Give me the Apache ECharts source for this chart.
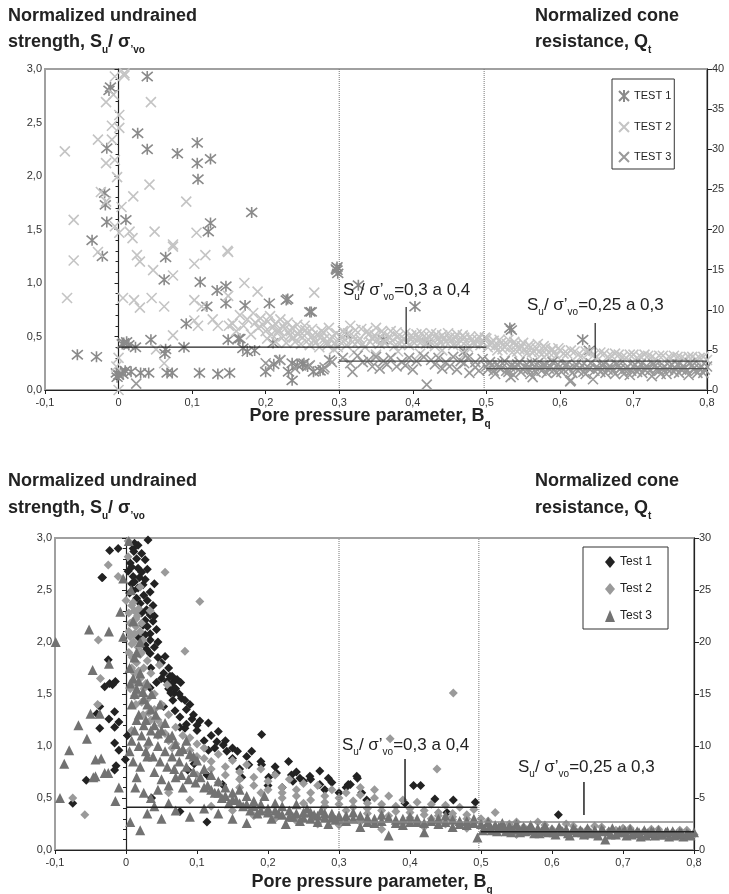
<!DOCTYPE html>
<html><head><meta charset="utf-8">
<script src="https://cdn.jsdelivr.net/npm/echarts@6/dist/echarts.min.js"></script>
<style>html,body{margin:0;padding:0;background:#fff}#c{width:729px;height:894px}</style>
</head><body><div id="c"></div>
<script>
// ---------- DATA (x = Bq, y = Su/σ'vo) ----------
const xTicks = [-0.1, 0.8, 0.1];
const leftTicks = [0, 3, 0.5];
const rightTopTicks = [0, 40, 5];
const rightBotTicks = [0, 30, 5];

const topTest1 = [[0.039,2.93],[-0.011,2.83],[-0.013,2.80],[0.026,2.40],[0.039,2.25],[-0.016,2.26],[0.08,2.21],[0.107,2.31],[0.107,2.12],[0.125,2.16],[0.108,1.97],[0.181,1.66],[-0.019,1.84],[-0.018,1.73],[0.010,1.59],[0.125,1.56],[0.122,1.48],[-0.016,1.57],[-0.036,1.40],[-0.022,1.25],[0.064,1.24],[0.062,1.03],[0.111,1.01],[0.134,0.93],[0.146,0.97],[0.146,0.81],[0.12,0.78],[0.172,0.79],[0.205,0.81],[0.23,0.85],[0.262,0.73],[0.297,1.15],[0.297,1.12],[0.298,1.09],[0.296,1.13],[0.092,0.62],[0.044,0.47],[0.165,0.48],[0.21,0.44],[0.007,0.44],[0.014,0.42],[0.023,0.40],[0.011,0.45],[0.005,0.43],[0.064,0.38],[0.089,0.40],[-0.056,0.33],[-0.030,0.31],[0.063,0.34],[0.169,0.39],[0.175,0.36],[-0.003,0.16],[0.0,0.14],[0.003,0.17],[0.006,0.15],[0.009,0.18],[-0.002,0.12],[0.017,0.17],[0.03,0.16],[0.041,0.16],[0.066,0.16],[0.073,0.16],[0.110,0.16],[0.135,0.15],[0.151,0.16],[0.2,0.17],[0.211,0.24],[0.231,0.17],[0.236,0.09],[0.25,0.24],[0.257,0.22],[0.265,0.17],[0.274,0.18],[0.326,0.98],[0.403,0.78],[0.534,0.56],[0.532,0.58],[0.631,0.47],[0.64,0.37],[0.31,0.52],[0.36,0.47],[0.42,0.44],[0.47,0.36],[0.149,0.47],[0.163,0.48],[0.228,0.84],[0.26,0.73],[0.185,0.37],[0.219,0.28],[0.236,0.25],[0.243,0.23],[0.252,0.25],[0.278,0.19],[0.287,0.28]];

const topTest2 = [[0.008,2.94],[-0.005,2.93],[0.008,2.96],[0.044,2.69],[-0.017,2.69],[-0.007,2.76],[0.001,2.57],[0.001,2.45],[-0.009,2.47],[-0.028,2.34],[-0.009,2.34],[-0.073,2.23],[-0.017,2.12],[-0.005,2.15],[-0.002,1.99],[0.042,1.92],[0.020,1.81],[-0.024,1.85],[0.092,1.76],[0.004,1.71],[-0.017,1.76],[-0.061,1.59],[0.049,1.48],[0.106,1.47],[-0.005,1.53],[0.001,1.47],[0.015,1.48],[0.019,1.42],[0.074,1.36],[0.149,1.29],[0.118,1.26],[-0.028,1.29],[-0.061,1.21],[0.029,1.20],[0.025,1.26],[0.047,1.12],[0.074,1.34],[0.074,1.07],[0.103,1.18],[0.148,1.30],[0.171,1.00],[0.189,0.92],[0.266,0.91],[-0.070,0.86],[0.006,0.86],[0.021,0.84],[0.029,0.77],[0.045,0.86],[0.062,0.78],[0.103,0.84],[0.113,0.78],[0.149,0.88],[0.128,0.66],[0.103,0.65],[0.074,0.51],[0.051,0.38],[0.062,0.25],[0.108,0.60],[0.135,0.60],[0.15,0.60],[0.0,0.0],[0.0,0.30],[-0.003,0.22],
[0.155,0.62],[0.16,0.55],[0.165,0.70],[0.17,0.60],[0.175,0.66],[0.18,0.52],[0.183,0.72],[0.186,0.63],[0.19,0.58],[0.193,0.67],[0.196,0.61],[0.2,0.55],[0.203,0.64],[0.206,0.69],[0.21,0.59],[0.213,0.62],[0.216,0.53],[0.22,0.66],[0.223,0.60],[0.226,0.57],[0.23,0.63],[0.233,0.51],[0.236,0.58],[0.24,0.45],[0.243,0.61],[0.246,0.55],[0.25,0.49],[0.253,0.60],[0.256,0.53],[0.26,0.42],[0.263,0.57],[0.266,0.47],[0.27,0.52],[0.273,0.40],[0.276,0.55],[0.28,0.48],[0.283,0.44],[0.286,0.58],[0.29,0.50],[0.293,0.38],[0.296,0.53],[0.30,0.46],
[0.202,0.48],[0.208,0.52],[0.214,0.45],[0.218,0.56],[0.224,0.50],[0.228,0.44],[0.234,0.55],[0.238,0.49],[0.244,0.52],[0.248,0.43],[0.254,0.56],[0.258,0.47],[0.264,0.51],[0.268,0.44],[0.274,0.49],[0.278,0.54],[0.284,0.42],[0.288,0.47],[0.294,0.44],[0.298,0.40],
[0.305,0.55],[0.31,0.42],[0.315,0.60],[0.32,0.50],[0.325,0.45],[0.33,0.57],[0.335,0.40],[0.34,0.52],[0.345,0.48],[0.35,0.58],[0.355,0.43],[0.36,0.53],[0.365,0.47],[0.37,0.55],[0.375,0.41],[0.38,0.50],[0.385,0.45],[0.39,0.53],[0.395,0.42],[0.40,0.49],[0.405,0.52],[0.41,0.44],[0.415,0.50],[0.42,0.47],[0.425,0.53],[0.43,0.41],[0.435,0.48],[0.44,0.51],[0.445,0.45],[0.45,0.49],[0.455,0.42],[0.46,0.52],[0.465,0.46],[0.47,0.49],[0.475,0.40],[0.48,0.47],[0.485,0.43],[0.49,0.50],[0.495,0.45],[0.32,0.35],[0.35,0.33],[0.38,0.36],[0.41,0.34],[0.44,0.37],[0.47,0.33],
[0.302,0.50],[0.308,0.47],[0.312,0.53],[0.318,0.45],[0.322,0.56],[0.328,0.48],[0.332,0.43],[0.338,0.55],[0.342,0.45],[0.348,0.51],[0.352,0.47],[0.358,0.55],[0.362,0.44],[0.368,0.50],[0.372,0.46],[0.378,0.54],[0.382,0.43],[0.388,0.48],[0.392,0.45],[0.398,0.51],[0.402,0.44],[0.408,0.48],[0.412,0.53],[0.418,0.43],[0.422,0.50],[0.428,0.46],[0.432,0.52],[0.438,0.44],[0.442,0.48],[0.448,0.53],[0.452,0.46],[0.458,0.49],[0.462,0.43],[0.468,0.51],[0.472,0.45],[0.478,0.50],[0.482,0.44],[0.488,0.47],[0.492,0.42],[0.498,0.49],
[0.50,0.48],[0.505,0.42],[0.51,0.46],[0.515,0.37],[0.52,0.44],[0.525,0.40],[0.53,0.47],[0.535,0.35],[0.54,0.42],[0.545,0.38],[0.55,0.44],[0.555,0.34],[0.56,0.40],[0.565,0.36],[0.57,0.43],[0.575,0.33],[0.58,0.39],[0.585,0.35],[0.59,0.38],[0.595,0.32],[0.60,0.37],[0.61,0.34],[0.62,0.36],[0.63,0.32],[0.64,0.35],[0.65,0.31],[0.66,0.34],[0.67,0.32],[0.68,0.33],[0.69,0.30],[0.70,0.33],[0.71,0.31],[0.72,0.32],[0.73,0.29],[0.74,0.32],[0.75,0.30],[0.76,0.31],[0.77,0.29],[0.78,0.31],[0.79,0.30],[0.80,0.28],
[0.502,0.40],[0.507,0.45],[0.512,0.41],[0.518,0.47],[0.522,0.38],[0.528,0.43],[0.532,0.40],[0.538,0.45],[0.542,0.36],[0.548,0.41],[0.552,0.38],[0.558,0.42],[0.562,0.35],[0.568,0.39],[0.572,0.36],[0.578,0.41],[0.582,0.33],[0.588,0.37],[0.592,0.35],[0.598,0.39],[0.605,0.34],[0.615,0.37],[0.625,0.33],[0.635,0.36],[0.645,0.32],[0.655,0.35],[0.665,0.31],[0.675,0.34],[0.685,0.31],[0.695,0.33],[0.705,0.30],[0.715,0.33],[0.725,0.31],[0.735,0.32],[0.745,0.29],[0.755,0.32],[0.765,0.30],[0.775,0.31],[0.785,0.29],[0.795,0.31]];

const topTest3 = [[0.2,0.25],[0.205,0.22],[0.22,0.28],[0.24,0.20],[0.26,0.23],[0.28,0.21],[0.29,0.26],[0.318,0.17],[0.332,0.26],[0.345,0.22],[0.355,0.20],[0.365,0.24],[0.378,0.22],[0.39,0.23],[0.40,0.19],[0.419,0.05],[0.43,0.24],[0.44,0.20],[0.45,0.22],[0.46,0.19],[0.47,0.25],[0.477,0.16],[0.485,0.21],[0.49,0.18],[0.024,0.06],
[0.305,0.30],[0.315,0.25],[0.325,0.32],[0.34,0.28],[0.35,0.31],[0.36,0.27],[0.37,0.30],[0.385,0.26],[0.395,0.30],[0.405,0.27],[0.415,0.31],[0.425,0.28],[0.435,0.30],[0.445,0.26],[0.455,0.31],[0.465,0.27],[0.475,0.30],[0.485,0.26],[0.495,0.29],
[0.50,0.22],[0.505,0.26],[0.51,0.18],[0.515,0.24],[0.52,0.20],[0.525,0.27],[0.53,0.17],[0.535,0.23],[0.54,0.21],[0.545,0.26],[0.55,0.19],[0.555,0.24],[0.56,0.15],[0.565,0.22],[0.57,0.25],[0.575,0.18],[0.58,0.23],[0.585,0.20],[0.59,0.26],[0.595,0.16],[0.60,0.22],[0.605,0.19],[0.61,0.24],[0.615,0.09],[0.62,0.21],[0.625,0.18],[0.63,0.23],[0.635,0.15],[0.64,0.20],[0.645,0.10],[0.65,0.22],[0.655,0.17],[0.66,0.24],[0.665,0.19],[0.67,0.21],[0.675,0.15],[0.68,0.23],[0.685,0.18],[0.69,0.20],[0.695,0.14],[0.70,0.22],[0.705,0.17],[0.71,0.24],[0.715,0.19],[0.72,0.21],[0.725,0.13],[0.73,0.23],[0.735,0.18],[0.74,0.20],[0.745,0.15],[0.75,0.22],[0.755,0.17],[0.76,0.24],[0.765,0.19],[0.77,0.21],[0.775,0.14],[0.78,0.23],[0.785,0.18],[0.79,0.20],[0.795,0.16],[0.80,0.22],[0.533,0.12],[0.563,0.12],[0.614,0.08],
[0.502,0.19],[0.507,0.23],[0.512,0.15],[0.517,0.21],[0.522,0.25],[0.527,0.18],[0.532,0.22],[0.537,0.14],[0.542,0.24],[0.547,0.17],[0.552,0.22],[0.557,0.20],[0.562,0.25],[0.567,0.17],[0.572,0.21],[0.577,0.23],[0.582,0.16],[0.587,0.22],[0.592,0.19],[0.597,0.24],[0.602,0.17],[0.607,0.23],[0.612,0.20],[0.617,0.16],[0.622,0.24],[0.627,0.20],[0.632,0.17],[0.637,0.22],[0.642,0.25],[0.647,0.18],[0.652,0.20],[0.657,0.23],[0.662,0.16],[0.667,0.22],[0.672,0.18],[0.677,0.24],[0.682,0.20],[0.687,0.15],[0.692,0.22],[0.697,0.18],[0.702,0.24],[0.707,0.20],[0.712,0.16],[0.717,0.22],[0.722,0.18],[0.727,0.24],[0.732,0.20],[0.737,0.15],[0.742,0.22],[0.747,0.19],[0.752,0.24],[0.757,0.20],[0.762,0.16],[0.767,0.22],[0.772,0.18],[0.777,0.25],[0.782,0.20],[0.787,0.16],[0.792,0.22],[0.797,0.19]];

const botTest1 = [[0.031,2.98],[0.017,2.93],[0.010,2.90],[-0.023,2.88],[-0.011,2.90],[0.011,2.87],[0.015,2.80],[0.027,2.79],[0.006,2.76],[0.017,2.71],[0.022,2.67],[-0.034,2.62],[0.003,2.68],[0.010,2.63],[0.027,2.60],[0.040,2.56],[0.008,2.56],[0.017,2.52],[0.010,2.49],[0.034,2.48],[0.005,2.47],[0.020,2.37],[0.029,2.31],[0.034,2.26],[0.027,2.21],[0.024,2.16],[0.043,2.12],[0.034,2.08],[0.027,2.07],[0.034,2.02],[0.017,2.05],[0.027,1.97],[0.029,1.93],[0.034,1.89],[0.055,1.86],[0.053,1.70],[0.062,1.67],[0.066,1.61],[0.058,1.62],[0.043,1.61],[-0.015,1.62],[-0.023,1.60],[0.068,1.51],[0.034,1.56],[0.065,1.67],[0.072,1.64],[0.077,1.61],[0.068,1.56],[0.063,1.51],[0.078,1.46],[0.083,1.44],[0.066,1.44],[0.053,1.38],[0.069,1.34],[0.076,1.28],[0.085,1.21],[0.083,1.17],[0.076,1.18],[0.093,1.26],[0.104,1.24],[0.116,1.22],[0.130,1.14],[0.128,1.04],[0.116,0.96],[0.125,0.98],[0.137,1.01],[0.142,0.95],[0.157,0.95],[0.177,0.95],[0.191,1.11],[0.173,0.82],[0.191,0.82],[0.212,0.74],[0.229,0.85],[0.233,0.72],[0.235,0.66],[0.245,0.69],[0.259,0.71],[0.273,0.76],[0.285,0.69],[0.313,0.63],[0.325,0.71],[0.114,0.27],[0.076,0.37],[0.036,0.50],[-0.016,1.33],[-0.037,1.38],[-0.016,1.18],[-0.024,1.26],[-0.037,1.17],[-0.010,1.23],[-0.041,1.31],[-0.019,1.59],[-0.030,1.57],[-0.025,1.83],[-0.033,2.62],[-0.014,0.81],[-0.016,0.77],[-0.056,0.67],[-0.075,0.45],[-0.001,0.87],[-0.010,0.96],[-0.016,1.03],[0.002,1.10],[0.136,0.63],[0.163,0.70],[0.201,0.70],[0.25,0.66],[0.273,0.63],[0.114,0.72],[0.096,0.83],[0.087,0.77],[0.326,0.69],[0.316,0.63],[0.332,0.55],[0.339,0.48],[0.393,0.45],[0.405,0.62],[0.415,0.62],[0.435,0.49],[0.461,0.48],[0.492,0.46],[0.609,0.34],[0.452,0.36],[0.02,2.3],[0.025,2.45],[0.038,2.2],[0.045,2.0],[0.05,1.8],[0.06,1.75],[0.07,1.55],[0.09,1.4],[0.1,1.15],[0.11,1.05],[0.15,0.88],[0.16,0.78],[0.2,0.62],[0.22,0.6],[0.28,0.58],[0.3,0.55],
[0.012,2.95],[0.022,2.85],[0.008,2.72],[0.019,2.62],[0.03,2.70],[0.012,2.58],[0.024,2.55],[0.015,2.42],[0.03,2.40],[0.022,2.28],[0.038,2.35],[0.03,2.15],[0.04,2.25],[0.022,1.98],[0.04,1.95],[0.045,1.85],[0.035,1.75],[0.05,1.65],[0.06,1.55],[0.075,1.50],[0.085,1.35],[0.095,1.30],[0.1,1.20],[0.12,1.10],[0.14,1.05],[0.15,0.98],[0.17,0.9],[0.19,0.85],[0.21,0.8],[0.24,0.75],[0.26,0.68],[0.29,0.65],[0.31,0.6]];

const botTest2 = [[0.003,2.97],[-0.025,2.74],[-0.011,2.63],[0.003,2.82],[0.055,2.67],[0.104,2.39],[0.083,1.91],[0.02,2.53],[0.034,2.30],[-0.039,2.02],[-0.036,1.65],[0.047,1.78],[0.058,1.59],[-0.058,0.34],[-0.075,0.50],[-0.040,1.40],[0.0,2.40],
[0.008,2.35],[0.012,2.30],[0.016,2.25],[0.01,2.2],[0.014,2.15],[0.02,2.1],[0.006,2.05],[0.011,2.0],[0.017,1.95],[0.022,1.9],[0.009,1.85],[0.015,1.8],[0.025,1.75],[0.012,1.7],[0.02,1.65],[0.028,1.6],[0.006,1.55],[0.018,1.5],[0.03,1.45],[0.014,1.40],[0.04,1.35],[0.024,1.30],[0.035,1.25],[0.05,1.20],[0.008,1.15],[0.045,1.10],[0.06,1.05],[0.03,1.0],
[0.004,2.28],[0.01,2.38],[0.018,2.32],[0.006,2.18],[0.014,2.22],[0.022,2.18],[0.004,2.1],[0.012,2.08],[0.024,2.02],[0.008,1.98],[0.02,1.88],[0.004,1.9],[0.012,1.82],[0.03,1.82],[0.008,1.75],[0.018,1.72],[0.035,1.7],[0.01,1.62],[0.025,1.55],[0.04,1.5],[0.012,1.48],[0.022,1.42],[0.05,1.4],[0.032,1.32],[0.06,1.3],[0.045,1.25],[0.07,1.18],[0.055,1.12],[0.08,1.1],[0.065,0.98],[0.09,0.96],[0.1,1.02],[0.11,0.88],[0.12,0.78],[0.14,0.72],[0.16,0.68],[0.18,0.62],[0.2,0.58],[0.22,0.55],[0.24,0.52],[0.26,0.48],[0.28,0.46],[0.3,0.44],[0.32,0.41],[0.34,0.40],[0.36,0.38],[0.38,0.37],[0.4,0.36],[0.42,0.34],[0.44,0.33],[0.46,0.32],[0.48,0.3],
[0.07,1.02],[0.08,0.95],[0.09,1.08],[0.1,0.9],[0.11,0.98],[0.12,0.85],[0.13,0.92],[0.14,0.80],[0.15,0.86],[0.16,0.75],[0.17,0.82],[0.18,0.70],[0.19,0.78],[0.2,0.66],[0.21,0.72],[0.22,0.6],[0.23,0.68],[0.24,0.58],[0.25,0.64],[0.26,0.55],[0.27,0.62],[0.28,0.52],[0.29,0.58],[0.30,0.50],[0.31,0.55],[0.32,0.47],[0.33,0.53],[0.34,0.45],[0.35,0.5],[0.36,0.44],[0.37,0.52],[0.38,0.42],[0.39,0.48],[0.40,0.40],[0.41,0.46],[0.42,0.38],[0.43,0.44],[0.44,0.36],[0.45,0.43],[0.46,0.35],[0.47,0.41],[0.48,0.34],[0.49,0.39],
[0.06,0.55],[0.09,0.48],[0.12,0.42],[0.15,0.38],[0.18,0.33],[0.21,0.30],[0.24,0.28],[0.27,0.25],[0.30,0.24],[0.33,0.27],[0.36,0.2],[0.39,0.26],[0.42,0.22],[0.45,0.25],[0.48,0.21],[0.1,0.72],[0.13,0.65],[0.16,0.6],[0.19,0.55],[0.22,0.5],[0.25,0.45],[0.28,0.42],[0.31,0.38],[0.34,0.35],[0.37,0.33],[0.40,0.31],[0.43,0.3],[0.46,0.29],
[0.372,1.07],[0.438,0.78],[0.461,1.51],[0.33,0.6],[0.35,0.58],
[0.5,0.3],[0.52,0.36],[0.54,0.25],[0.56,0.22],[0.58,0.27],[0.6,0.2],[0.62,0.25],[0.64,0.19],[0.66,0.23],[0.68,0.18],[0.70,0.21],[0.72,0.17],[0.74,0.2],[0.76,0.16],[0.78,0.19],[0.8,0.15],[0.55,0.15],[0.65,0.14],[0.75,0.14],
[0.51,0.28],[0.53,0.24],[0.55,0.27],[0.57,0.21],[0.59,0.24],[0.61,0.19],[0.63,0.23],[0.65,0.2],[0.67,0.22],[0.69,0.19],[0.71,0.21],[0.73,0.18],[0.75,0.2],[0.77,0.17],[0.79,0.19]];

const botTest3 = [[-0.099,2.00],[-0.093,0.50],[-0.087,0.83],[-0.080,0.96],[-0.067,1.20],[-0.055,1.07],[-0.052,2.12],[-0.008,2.29],[-0.024,2.10],[-0.024,1.79],[-0.047,1.73],[-0.004,2.05],[-0.004,2.61],[0.004,2.97],[-0.043,0.87],[-0.05,1.31],[-0.037,1.31],[-0.025,0.74],[-0.043,0.71],[-0.01,0.60],[0.006,0.27],[0.02,0.19],[-0.015,0.47],[0.013,0.60],[-0.046,0.70],[-0.030,0.74],[-0.035,0.88],
[0.005,1.75],[0.01,1.65],[0.015,1.55],[0.02,1.70],[0.025,1.45],[0.03,1.60],[0.035,1.35],[0.008,1.40],[0.018,1.30],[0.028,1.25],[0.04,1.20],[0.012,1.15],[0.022,1.10],[0.032,1.05],[0.045,1.00],[0.05,1.15],[0.055,0.95],[0.06,1.08],[0.065,0.90],[0.07,1.02],[0.075,0.85],[0.08,0.97],[0.085,0.80],[0.09,0.92],[0.095,0.75],[0.1,0.86],[0.005,0.95],[0.01,0.85],[0.02,0.80],[0.03,0.9],[0.04,0.75],[0.05,0.68],[0.06,0.62],[0.07,0.7],[0.08,0.6],[0.015,0.7],[0.025,0.55],[0.035,0.5],[0.045,0.58],[0.01,2.2],[0.015,1.9],[0.02,2.0],[0.007,2.5],[0.012,1.85],
[0.006,1.6],[0.012,1.5],[0.018,1.62],[0.024,1.52],[0.03,1.4],[0.036,1.5],[0.042,1.3],[0.048,1.4],[0.015,1.25],[0.025,1.2],[0.035,1.15],[0.045,1.12],[0.055,1.22],[0.065,1.1],[0.075,0.95],[0.085,1.05],[0.095,0.9],[0.008,1.05],[0.018,1.0],[0.028,0.95],[0.038,0.9],[0.048,0.85],[0.058,0.8],[0.068,0.78],[0.078,0.72],[0.088,0.68],[0.098,0.65],[0.11,0.6],[0.12,0.58],[0.13,0.55],[0.14,0.52],[0.15,0.48],[0.16,0.45],[0.17,0.44],[0.18,0.42],[0.19,0.38],[0.2,0.36],[0.21,0.38],[0.22,0.34],[0.23,0.32],[0.24,0.35],[0.25,0.31],[0.26,0.36],[0.27,0.33],[0.28,0.35],[0.29,0.31],[0.3,0.3],[0.31,0.33],[0.32,0.3],[0.33,0.33],[0.34,0.27],[0.35,0.3],[0.36,0.28],[0.37,0.31],[0.38,0.26],[0.39,0.3],[0.40,0.27],[0.41,0.3],[0.42,0.26],[0.43,0.28],[0.44,0.3],[0.45,0.27],[0.46,0.29],[0.47,0.25],[0.48,0.28],[0.49,0.26],
[0.105,0.7],[0.11,0.78],[0.115,0.62],[0.12,0.72],[0.125,0.55],[0.13,0.66],[0.135,0.5],[0.14,0.6],[0.145,0.45],[0.15,0.55],[0.155,0.48],[0.16,0.58],[0.165,0.42],[0.17,0.52],[0.175,0.38],[0.18,0.47],[0.185,0.35],[0.19,0.44],[0.195,0.52],[0.2,0.40],[0.205,0.30],[0.21,0.45],[0.215,0.35],[0.22,0.42],[0.225,0.25],[0.23,0.38],[0.235,0.32],[0.24,0.44],[0.245,0.28],[0.25,0.36],[0.255,0.40],[0.26,0.30],[0.265,0.34],[0.27,0.27],[0.275,0.38],[0.28,0.31],[0.285,0.25],[0.29,0.35],[0.295,0.29],[0.3,0.33],[0.31,0.28],[0.32,0.36],[0.33,0.22],[0.34,0.31],[0.35,0.26],[0.36,0.34],[0.37,0.14],[0.38,0.29],[0.39,0.24],[0.40,0.32],[0.41,0.27],[0.42,0.17],[0.43,0.30],[0.44,0.25],[0.45,0.33],[0.46,0.22],[0.47,0.28],[0.48,0.24],[0.49,0.30],[0.495,0.12],
[0.03,0.35],[0.05,0.3],[0.07,0.38],[0.09,0.32],[0.11,0.4],[0.13,0.35],[0.15,0.3],[0.17,0.26],[0.04,0.42],[0.06,0.45],
[0.50,0.25],[0.505,0.21],[0.51,0.27],[0.515,0.19],[0.52,0.24],[0.525,0.22],[0.53,0.26],[0.535,0.18],[0.54,0.23],[0.545,0.20],[0.55,0.25],[0.555,0.17],[0.56,0.22],[0.565,0.19],[0.57,0.24],[0.575,0.16],[0.58,0.21],[0.585,0.18],[0.59,0.23],[0.595,0.17],[0.60,0.20],[0.605,0.15],[0.61,0.22],[0.615,0.18],[0.62,0.20],[0.625,0.14],[0.63,0.21],[0.635,0.17],[0.64,0.19],[0.645,0.15],[0.65,0.21],[0.655,0.16],[0.66,0.19],[0.665,0.14],[0.67,0.20],[0.675,0.10],[0.68,0.18],[0.685,0.21],[0.69,0.15],[0.695,0.19],[0.70,0.17],[0.705,0.14],[0.71,0.20],[0.715,0.16],[0.72,0.18],[0.725,0.13],[0.73,0.19],[0.735,0.16],[0.74,0.18],[0.745,0.14],[0.75,0.19],[0.755,0.15],[0.76,0.17],[0.765,0.13],[0.77,0.18],[0.775,0.15],[0.78,0.17],[0.785,0.13],[0.79,0.16],[0.795,0.14],[0.80,0.17],
[0.5025,0.19],[0.5125,0.23],[0.5225,0.18],[0.5325,0.21],[0.5425,0.17],[0.5525,0.21],[0.5625,0.18],[0.5725,0.2],[0.5825,0.16],[0.5925,0.2],[0.6025,0.17],[0.6125,0.19],[0.6225,0.16],[0.6325,0.19],[0.6425,0.17],[0.6525,0.18],[0.6625,0.16],[0.6725,0.18],[0.6825,0.15],[0.6925,0.17],[0.7025,0.19],[0.7125,0.15],[0.7225,0.17],[0.7325,0.14],[0.7425,0.17],[0.7525,0.15],[0.7625,0.18],[0.7725,0.14],[0.7825,0.16],[0.7925,0.15]];

// reference lines (x,y pairs)
const topLevelLines = [[[0,0.40],[0.5,0.40]],[[0.3,0.27],[0.8,0.27]],[[0.5,0.20],[0.8,0.20]]];
const topPointerLines = [[[0.391,0.43],[0.391,0.776]],[[0.648,0.30],[0.648,0.626]]];
const botLevelLines = [[[0,0.41],[0.495,0.41]],[[0.3,0.27],[0.8,0.27]],[[0.5,0.175],[0.8,0.175]]];
const botPointerLines = [[[0.393,0.46],[0.393,0.875]],[[0.645,0.337],[0.645,0.654]]];
const zoneBounds = [0.3, 0.497];

const topNames = ['TEST 1','TEST 2','TEST 3'];
const botNames = ['Test 1','Test 2','Test 3'];

// ---------- CHART ----------
const FF = '"Liberation Sans", Arial, sans-serif';
const STAR = 'path://M0,0L10,10M10,0L0,10M5,-1L5,11';
const CROSS = 'path://M0,0L10,10M10,0L0,10';
const fmt = v => Math.abs(v) < 1e-9 ? '0' : v.toFixed(1).replace('.', ',');

function xAx(gi){
  return {gridIndex: gi, type:'value', min:xTicks[0], max:xTicks[1], interval:xTicks[2],
    axisLine:{show:true,onZero:false,lineStyle:{color:'#222',width:1.2}},
    axisTick:{show:true,length:4,lineStyle:{color:'#222'}},
    axisLabel:{formatter:fmt,fontSize:11,color:'#333',fontFamily:FF,margin:7},
    splitLine:{show:false}};
}
function yLeft(gi){
  return {gridIndex: gi, type:'value', min:leftTicks[0], max:leftTicks[1], interval:leftTicks[2],
    axisLine:{show:true,onZero:true,lineStyle:{color:'#222',width:1.2}},
    axisTick:{show:true,length:4,lineStyle:{color:'#222'}},
    minorTick:{show:true,splitNumber:5,length:3,lineStyle:{color:'#222'}},
    axisLabel:{formatter:v=>v.toFixed(1).replace('.',','),fontSize:11,color:'#333',fontFamily:FF,margin:3},
    splitLine:{show:false}};
}
function yRight(gi, t){
  return {gridIndex: gi, type:'value', position:'right', min:t[0], max:t[1], interval:t[2],
    axisLine:{show:true,onZero:false,lineStyle:{color:'#222',width:1.2}},
    axisTick:{show:true,length:5,lineStyle:{color:'#222'}},
    axisLabel:{fontSize:11,color:'#333',fontFamily:FF,margin:5},
    splitLine:{show:false}};
}
function scat(name, data, xi, yi, symbol, size, color, stroke){
  const s = {name, type:'scatter', data, xAxisIndex:xi, yAxisIndex:yi, symbol, symbolSize:size, animation:false, large:false};
  if (stroke) s.itemStyle = {color:'rgba(0,0,0,0)', borderColor:color, borderWidth:1.6, opacity:1};
  else s.itemStyle = {color, opacity:1};
  return s;
}
function seg(data, xi, yi, color, width, type){
  return {type:'line', data, xAxisIndex:xi, yAxisIndex:yi, symbol:'none', silent:true, animation:false, z:5,
    lineStyle:{color, width, type: type||'solid'}};
}

const series = [
  scat('TEST 1', topTest1, 0, 0, STAR, 11, '#8a8a8a', true),
  scat('TEST 2', topTest2, 0, 0, CROSS, 10, '#c4c4c4', true),
  scat('TEST 3', topTest3, 0, 0, CROSS, 10, '#999999', true),
  scat('Test 1', botTest1, 1, 2, 'diamond', 9, '#222222', false),
  scat('Test 2', botTest2, 1, 2, 'diamond', 9, '#9a9a9a', false),
  scat('Test 3', botTest3, 1, 2, 'triangle', 10, '#727272', false),
];
zoneBounds.forEach(b => {
  series.push(seg([[b,leftTicks[0]],[b,leftTicks[1]]],0,0,'#777',1,'dotted'));
  series.push(seg([[b,leftTicks[0]],[b,leftTicks[1]]],1,2,'#777',1,'dotted'));
});
const lvlCol = ['#222','#444','#555'];
topLevelLines.forEach((d,i)=>series.push(seg(d,0,0,lvlCol[i],1.2)));
topPointerLines.forEach(d=>series.push(seg(d,0,0,'#222',1.2)));
const lvlColB = ['#222','#888','#222'];
botLevelLines.forEach((d,i)=>series.push(seg(d,1,2,lvlColB[i],1.5)));
botPointerLines.forEach(d=>series.push(seg(d,1,2,'#222',1.5)));

const richT = {
  b:{fontFamily:FF,fontWeight:'bold',fontSize:18,lineHeight:22,verticalAlign:'top',fill:'#222'},
  s:{fontFamily:FF,fontWeight:'bold',fontSize:10,lineHeight:12,verticalAlign:'bottom',fill:'#222'}
};
const richA = {
  n:{fontFamily:FF,fontSize:17,lineHeight:20,verticalAlign:'top',fill:'#222'},
  s:{fontFamily:FF,fontSize:10,lineHeight:11,verticalAlign:'bottom',fill:'#222'}
};
function txt(x,y,text,rich,align){
  return {type:'text', x, y, silent:true, z:100, style:{text, rich, align: align||'left', verticalAlign:'middle'}};
}
const graphic = [
  txt(8,18,'{b|Normalized undrained}',richT),
  txt(8,44,'{b|strength, S}{s|u}{b|/ σ}{s|\u2019vo}',richT),
  txt(535,18,'{b|Normalized cone}',richT),
  txt(535,44,'{b|resistance, Q}{s|t}',richT),
  txt(370,418,'{b|Pore pressure parameter, B}{s|q}',richT,'center'),
  txt(343,292,'{n|S}{s|u}{n|/ σ\u2019}{s|vo}{n|=0,3 a 0,4}',richA),
  txt(527,307,'{n|S}{s|u}{n|/ σ\u2019}{s|vo}{n|=0,25 a 0,3}',richA),
  txt(8,483,'{b|Normalized undrained}',richT),
  txt(8,510,'{b|strength, S}{s|u}{b|/ σ}{s|\u2019vo}',richT),
  txt(535,483,'{b|Normalized cone}',richT),
  txt(535,510,'{b|resistance, Q}{s|t}',richT),
  txt(372,884,'{b|Pore pressure parameter, B}{s|q}',richT,'center'),
  txt(342,747,'{n|S}{s|u}{n|/ σ\u2019}{s|vo}{n|=0,3 a 0,4}',richA),
  txt(518,769,'{n|S}{s|u}{n|/ σ\u2019}{s|vo}{n|=0,25 a 0,3}',richA),
];

const option = {
  backgroundColor:'#fff',
  animation:false,
  grid:[
    {left:45, top:69, width:662, height:321, show:true, borderColor:'#a0a0a0', borderWidth:2, backgroundColor:'transparent'},
    {left:55, top:538, width:639, height:312, show:true, borderColor:'#a0a0a0', borderWidth:2, backgroundColor:'transparent'}
  ],
  xAxis:[xAx(0), xAx(1)],
  yAxis:[yLeft(0), yRight(0, rightTopTicks), yLeft(1), yRight(1, rightBotTicks)],
  legend:[
    {data:topNames, orient:'vertical', left:612, top:79, padding:[10,3,6,6], itemGap:18, itemWidth:10, itemHeight:12,
     borderColor:'#333', borderWidth:1, textStyle:{fontSize:11,fontFamily:FF,color:'#222'}},
    {data:botNames, orient:'vertical', left:583, top:547, padding:[9,16,7,22], itemGap:15, itemWidth:10, itemHeight:12,
     borderColor:'#333', borderWidth:1, textStyle:{fontSize:12,fontFamily:FF,color:'#222'}}
  ],
  graphic,
  series
};
const chart = echarts.init(document.getElementById('c'), null, {renderer:'canvas'});
chart.setOption(option);
</script>
</body></html>
